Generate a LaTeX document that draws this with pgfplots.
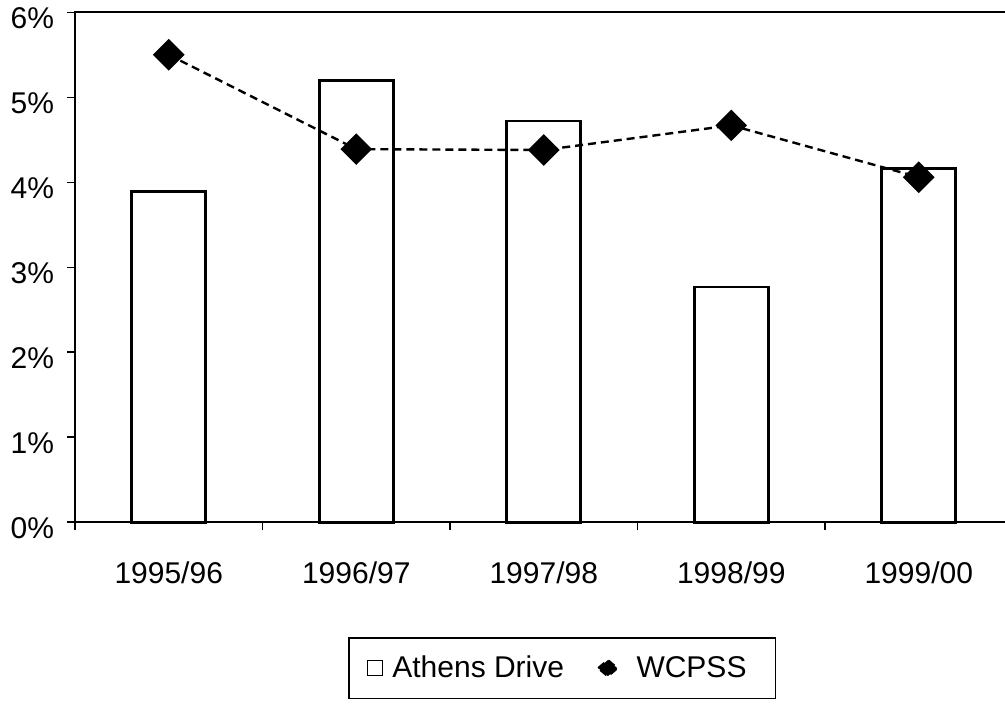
\documentclass[border=0pt]{standalone}
\usepackage{fontspec}
\setmainfont{Liberation Sans}
\usepackage{pgfplots}
\pgfplotsset{compat=1.18}
\begin{document}
\begin{tikzpicture}
\path[use as bounding box] (-37.5pt,-91.35pt) rectangle (465pt,261.15pt);
\begin{axis}[
  at={(0,0)}, anchor=south west,
  scale only axis,
  width=465pt, height=255pt,
  xmin=-0.5, xmax=4.46,
  ymin=0, ymax=6,
  axis line style={draw=none},
  xtick={0,1,2,3,4},
  xticklabels={1995/96,1996/97,1997/98,1998/99,1999/00},
  minor xtick={-0.5,0.5,1.5,2.5,3.5},
  ytick={0,1,2,3,4,5,6},
  yticklabels={0\%,1\%,2\%,3\%,4\%,5\%,6\%},
  xtick pos=bottom, ytick pos=left,
  tick align=outside,
  major tick length=4pt, minor tick length=4pt,
  xtick style={draw=none},
  minor x tick style={draw=black, line width=0.8pt},
  ytick style={draw=black, line width=0.8pt},
  tick label style={font=\fontsize{15}{18}\selectfont},
  xticklabel style={yshift=-12pt},
  yticklabel style={xshift=-3pt, yshift=-3pt},
  legend columns=2,
  legend style={
    at={(0.2935,-0.2249)}, anchor=north west,
    draw=black, line width=0.8pt,
    font=\fontsize{15}{18}\selectfont,
    inner xsep=9pt, inner ysep=7pt,
    /tikz/every even column/.append style={column sep=14.5pt},
  },
  clip=false,
]
\addplot[ybar, bar width=37pt, draw=black, fill=white, line width=1.3pt,
  legend image code/.code={\draw[line width=0.8pt, fill=white] (0pt,-3.75pt) rectangle (7.5pt,3.75pt);}]
  coordinates {(0,3.89) (1,5.20) (2,4.72) (3,2.77) (4,4.16)};
\addlegendentry{\rule{2.5pt}{0pt}Athens Drive}
\addplot[black, line width=1.2pt, dash pattern=on 4pt off 2.5pt,
  mark=square*, mark size=5pt, mark options={solid, rotate=45, fill=black},
  legend image code/.code={\fill[black] (0pt,0pt) -- (4.75pt,4pt) -- (9.5pt,0pt) -- (4.75pt,-4pt) -- cycle;}]
  coordinates {(0,5.50) (1,4.39) (2,4.38) (3,4.67) (4,4.06)};
\addlegendentry{\rule{7pt}{0pt}WCPSS\rule{3.5pt}{0pt}}
\draw[line width=1pt] (rel axis cs:1,1) -- (rel axis cs:0,1) -- (rel axis cs:0,0) -- (rel axis cs:1,0);
\end{axis}
\end{tikzpicture}
\end{document}
